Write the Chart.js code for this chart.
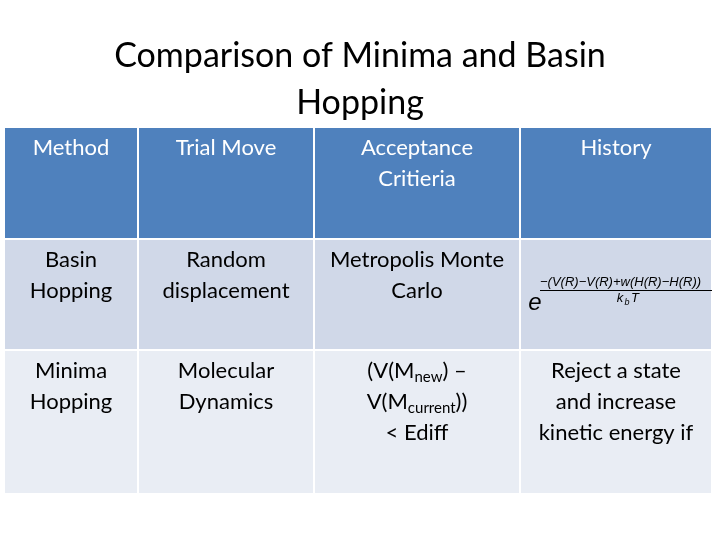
<!DOCTYPE html>
<html><head><meta charset="utf-8">
<script src="https://cdn.jsdelivr.net/npm/chart.js@4"></script>
<style>html,body{margin:0;background:#fff}#c{display:block}</style>
</head><body>
<div style="width:720px;height:540px"><canvas id="c"></canvas></div>
<script>
const titleLines = ["Comparison of Minima and Basin", "Hopping"];
const headers = [["Method"], ["Trial Move"], ["Acceptance", "Critieria"], ["History"]];
const rowBasin = [["Basin", "Hopping"], ["Random", "displacement"], ["Metropolis Monte", "Carlo"], null];
const rowMinima = [["Minima", "Hopping"], ["Molecular", "Dynamics"], null, ["Reject a state", "and increase", "kinetic energy if"]];
const colEdges = [5, 139, 315, 521, 713];
const rowEdges = [128, 240, 351, 495];
const FONT = "Lato, 'Open Sans', sans-serif";

const tablePlugin = {
  id: 'table',
  afterDraw(chart) {
    const ctx = chart.ctx;
    const fills = ['#4F81BD', '#D0D8E8', '#E9EDF4'];
    const rows = [headers, rowBasin, rowMinima];
    ctx.save();
    for (let r = 0; r < 3; r++) {
      for (let c = 0; c < 4; c++) {
        const x0 = colEdges[c], x1 = colEdges[c + 1] - 2;
        const y0 = rowEdges[r], y1 = rowEdges[r + 1] - 2;
        ctx.fillStyle = fills[r];
        ctx.fillRect(x0, y0, x1 - x0, y1 - y0);
        const cell = rows[r][c];
        ctx.fillStyle = r === 0 ? '#fff' : '#000';
        ctx.font = '22px ' + FONT;
        ctx.textAlign = 'center';
        ctx.textBaseline = 'middle';
        const cx = (x0 + x1) / 2;
        if (cell) {
          cell.forEach((t, i) => ctx.fillText(t, cx, y0 + 20 + i * 31));
        }
      }
    }
    // Minima acceptance with subscripts
    const cx = (colEdges[2] + colEdges[3] - 2) / 2;
    const y0 = rowEdges[2];
    function rich(parts, y) {
      let w = 0;
      parts.forEach(p => { ctx.font = (p[1] ? '15px ' : '22px ') + FONT; w += ctx.measureText(p[0]).width; });
      let x = cx - w / 2;
      ctx.textAlign = 'left';
      parts.forEach(p => {
        ctx.font = (p[1] ? '15px ' : '22px ') + FONT;
        ctx.fillText(p[0], x, y + (p[1] ? 6 : 0));
        x += ctx.measureText(p[0]).width;
      });
    }
    ctx.fillStyle = '#000';
    rich([["(V(M", 0], ["new", 1], [") \u2013", 0]], y0 + 20);
    rich([["V(M", 0], ["current", 1], ["))", 0]], y0 + 51);
    ctx.textAlign = 'center';
    ctx.font = '22px ' + FONT;
    ctx.fillText("< Ediff", cx, y0 + 82);
    // formula
    ctx.textAlign = 'left';
    ctx.font = 'italic 13px "Liberation Sans", sans-serif';
    ctx.fillText("\u2212(V(R)\u2212V(R)+w(H(R)\u2212H(R))", 540, 282);
    ctx.fillRect(540, 290, 172, 1);
    ctx.textAlign = 'center';
    ctx.fillText("k", 620, 298);
    ctx.font = 'italic 9px "Liberation Sans", sans-serif';
    ctx.fillText("b", 627, 302);
    ctx.font = 'italic 13px "Liberation Sans", sans-serif';
    ctx.fillText("T", 635, 298);
    ctx.font = 'italic 24px "Liberation Sans", sans-serif';
    ctx.fillText("e", 535, 303);
    ctx.restore();
  }
};

new Chart(document.getElementById('c'), {
  type: 'scatter',
  data: { datasets: [{ data: [] }] },
  options: {
    responsive: true, maintainAspectRatio: false, animation: false,
    layout: { padding: { top: 22 } },
    scales: { x: { display: false }, y: { display: false } },
    plugins: {
      legend: { display: false }, tooltip: { enabled: false },
      title: { display: true, text: titleLines, color: '#000',
        font: { family: FONT, size: 34, weight: 'normal', lineHeight: 1.4 } }
    }
  },
  plugins: [tablePlugin]
});
</script>
</body></html>
